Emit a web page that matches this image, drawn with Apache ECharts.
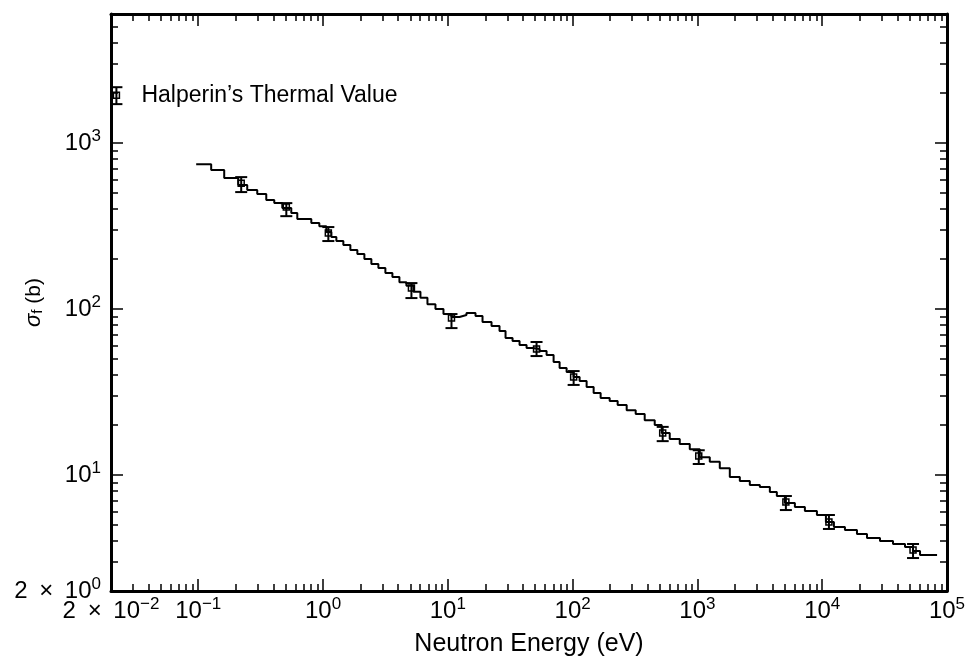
<!DOCTYPE html>
<html><head><meta charset="utf-8">
<script src="https://cdn.jsdelivr.net/npm/echarts@6/dist/echarts.min.js"></script>
<style>html,body{margin:0;padding:0;background:#fff}#c{width:967px;height:660px}</style>
</head><body><div id="c"></div>
<script>
// Group boundaries (eV) of the evaluated fission cross-section histogram
const binEdges = [
  0.0963, 0.127, 0.1615, 0.2092, 0.247, 0.2971, 0.3509, 0.4067, 0.4716, 0.5567,
  0.622, 0.8056, 0.9339, 1.063, 1.166, 1.279, 1.455, 1.656, 1.884, 2.145,
  2.44, 2.777, 3.16, 3.597, 4.094, 4.659, 5.302, 6.034, 6.867, 7.96,
  9.229, 10.7, 12.4, 14.11, 16.67, 18.97, 22.4, 25.96, 29.01, 33.02,
  37.57, 42.76, 47.77, 54.37, 61.86, 70.41, 78.66, 89.52, 101.9, 113.8,
  129.5, 147.4, 167.7, 198.1, 229.6, 271.2, 320.2, 378.1, 454.9, 517.6,
  600.1, 721.9, 868.3, 1044.5, 1256.5, 1511, 1818, 2187, 2630, 3164,
  3806, 4330, 5022, 6040, 7265, 9071, 10710, 12410, 15210, 18990,
  22850, 29040, 36930, 46090, 53440, 60800, 83250
];
// Group cross sections (b)
const binValues = [
  747, 688, 616, 559, 521, 493, 454, 435, 406, 379,
  349, 330, 316, 291, 272, 257, 243, 227, 215, 200,
  187, 177, 165, 156, 145, 138, 127, 117, 107, 100,
  93.3, 89.5, 92.0, 94.6, 90.8, 83.5, 79.0, 73.7, 66.9, 64.2,
  60.7, 58.2, 57.4, 55.8, 52.8, 47.9, 44.1, 41.7, 38.9, 36.8,
  33.9, 31.2, 29.1, 27.9, 26.4, 24.6, 23.3, 21.4, 20.0, 17.9,
  16.5, 15.4, 14.3, 12.8, 12.0, 11.0, 9.73, 9.20, 8.71, 8.47,
  7.90, 7.47, 6.78, 6.42, 6.07, 5.74, 5.21, 4.86, 4.67, 4.41,
  4.17, 4.00, 3.84, 3.68, 3.48, 3.30
];
// Measured points with error bars
const errEnergy = [0.221, 0.508, 1.103, 5.11, 10.7, 51.4, 101.9, 527, 1025, 5116, 11320, 53440];
const errMid    = [574, 412, 287, 133.8, 88.3, 57.4, 38.9, 17.9, 13.0, 6.88, 5.21, 3.53];
const errLow    = [507, 363, 257, 116.5, 76.8, 52.1, 34.9, 16.0, 11.65, 6.15, 4.73, 3.16];
const errHigh   = [624, 435, 312, 143.4, 93.3, 63.3, 42.3, 19.5, 14.1, 7.47, 5.74, 3.84];
// Thermal value point
const thermalEnergy = [0.0221];
const thermalMid = [1945];
const thermalLow = [1718];
const thermalHigh = [2173];
const thermalLabel = "Halperin\u2019s Thermal Value";
// Axis tick values
const xMajorTicks = [0.1, 1, 10, 100, 1000, 10000, 100000];
const xLabelValues = [0.02, 0.1, 1, 10, 100, 1000, 10000, 100000];
const yMajorTicks = [10, 100, 1000];
const yLabelValues = [2, 10, 100, 1000];
const xTitle = 'Neutron Energy (eV)';
const yTitle = '{i|\u03c3}{sub|f}{n| (b)}';

const FONT = '"Liberation Sans", Arial, Helvetica, sans-serif';
const xMinorTicks = [];
for (let d = -2; d <= 4; d++) for (let k = 2; k <= 9; k++) {
  const v = +(k * Math.pow(10, d)).toPrecision(6);
  if (v > 0.02 && v < 1e5) xMinorTicks.push(v);
}
const yMinorTicks = [];
for (let d = 0; d <= 3; d++) for (let k = 2; k <= 9; k++) {
  const v = +(k * Math.pow(10, d)).toPrecision(6);
  if (v > 2 && v < 6000) yMinorTicks.push(v);
}

const linePts = binValues.map((v, i) => [binEdges[i], v]);
linePts.push([binEdges[binEdges.length - 1], binValues[binValues.length - 1]]);
const errData = errEnergy.map((e, i) => [e, errMid[i], errLow[i], errHigh[i]]);
const thermalData = thermalEnergy.map((e, i) => [e, thermalMid[i], thermalLow[i], thermalHigh[i]]);

function fmt(v) {
  const e = Math.floor(Math.log10(v) + 1e-9);
  const m = Math.round(v / Math.pow(10, e));
  const exp = (e < 0 ? '\u2212' : '') + Math.abs(e);
  return (m === 1 ? '' : '{b|' + m + ' }{x|\u00d7}{b| }') + '{b|10}{s|' + exp + '}';
}
const labelRich = {
  b: { fontSize: 24, lineHeight: 30, fontFamily: FONT, color: '#000' },
  x: { fontSize: 24, lineHeight: 30, fontFamily: FONT, color: '#000', padding: [0, 5, 0, 5] },
  s: { fontSize: 17, lineHeight: 17, fontFamily: FONT, color: '#000', verticalAlign: 'top' }
};

function mkAxis(kind, pos, ticks, len, showLine, labels) {
  const isX = kind === 'x';
  const ax = {
    type: 'log', logBase: 10,
    min: isX ? 0.02 : 2, max: isX ? 1e5 : 6000,
    position: pos, gridIndex: 0,
    axisLine: { show: showLine, onZero: false, lineStyle: { color: '#000', width: 3 } },
    axisTick: { show: true, inside: true, length: len, customValues: ticks, lineStyle: { color: '#000', width: 1.5 } },
    axisLabel: { show: false },
    splitLine: { show: false },
    minorTick: { show: false },
    minorSplitLine: { show: false }
  };
  if (labels) {
    ax.axisLabel = {
      show: true, customValues: labels, formatter: fmt, margin: isX ? 5 : 10,
      rich: labelRich, color: '#000', fontFamily: FONT, fontSize: 24
    };
  }
  return ax;
}

const xAxes = [
  Object.assign(mkAxis('x', 'bottom', xMajorTicks, 12, true, xLabelValues), {
    name: xTitle, nameLocation: 'middle', nameGap: 41, nameMoveOverlap: false,
    nameTextStyle: { fontSize: 25, fontFamily: FONT, color: '#000' }
  }),
  mkAxis('x', 'bottom', xMinorTicks, 7, false, null),
  mkAxis('x', 'top', xMajorTicks, 12, true, null),
  mkAxis('x', 'top', xMinorTicks, 7, false, null)
];
const yAxes = [
  Object.assign(mkAxis('y', 'left', yMajorTicks, 12, true, yLabelValues), {
    name: yTitle, nameLocation: 'middle', nameGap: 66, nameMoveOverlap: false,
    nameTextStyle: {
      fontSize: 20, fontFamily: FONT, color: '#000',
      rich: {
        i: { fontSize: 22, fontStyle: 'italic', fontFamily: FONT, color: '#000' },
        sub: { fontSize: 15, fontFamily: FONT, color: '#000', verticalAlign: 'bottom' },
        n: { fontSize: 21, fontFamily: FONT, color: '#000' }
      }
    }
  }),
  mkAxis('y', 'left', yMinorTicks, 7, false, null),
  mkAxis('y', 'right', yMajorTicks, 12, true, null),
  mkAxis('y', 'right', yMinorTicks, 7, false, null)
];

function errItem(params, api) {
  const x = api.value(0);
  const c = api.coord([x, api.value(1)]);
  const lo = api.coord([x, api.value(2)]);
  const hi = api.coord([x, api.value(3)]);
  const hw = 6, s = 3;
  const st = { stroke: '#000', lineWidth: 2 };
  return {
    type: 'group', children: [
      { type: 'line', shape: { x1: c[0], y1: hi[1], x2: c[0], y2: lo[1] }, style: st },
      { type: 'line', shape: { x1: c[0] - hw, y1: hi[1], x2: c[0] + hw, y2: hi[1] }, style: st },
      { type: 'line', shape: { x1: c[0] - hw, y1: lo[1], x2: c[0] + hw, y2: lo[1] }, style: st },
      { type: 'rect', shape: { x: c[0] - s, y: c[1] - s, width: 2 * s, height: 2 * s }, style: { fill: 'none', stroke: '#000', lineWidth: 1.5 } }
    ]
  };
}
function thermalItem(params, api) {
  const g = errItem(params, api);
  const c = api.coord([api.value(0), api.value(1)]);
  g.children.push({
    type: 'text', x: c[0] + 25, y: c[1],
    style: { text: thermalLabel, fontSize: 23, fontFamily: FONT, fill: '#000', verticalAlign: 'middle', align: 'left' }
  });
  return g;
}

const chart = echarts.init(document.getElementById('c'), null, { renderer: 'canvas' });
chart.setOption({
  animation: false,
  backgroundColor: '#fff',
  grid: { left: 111, right: 20, top: 14, bottom: 69, containLabel: false, outerBoundsMode: 'none' },
  xAxis: xAxes,
  yAxis: yAxes,
  series: [
    {
      type: 'line', name: 'Evaluated \u03c3f', xAxisIndex: 0, yAxisIndex: 0,
      step: 'end', data: linePts, showSymbol: false, symbol: 'none',
      lineStyle: { color: '#000', width: 2 }, itemStyle: { color: '#000' }
    },
    {
      type: 'custom', name: 'Measured', xAxisIndex: 0, yAxisIndex: 0,
      data: errData, renderItem: errItem, clip: false, itemStyle: { color: '#000' }
    },
    {
      type: 'custom', name: thermalLabel, xAxisIndex: 0, yAxisIndex: 0,
      data: thermalData, renderItem: thermalItem, clip: false, itemStyle: { color: '#000' }
    }
  ]
});
</script></body></html>
